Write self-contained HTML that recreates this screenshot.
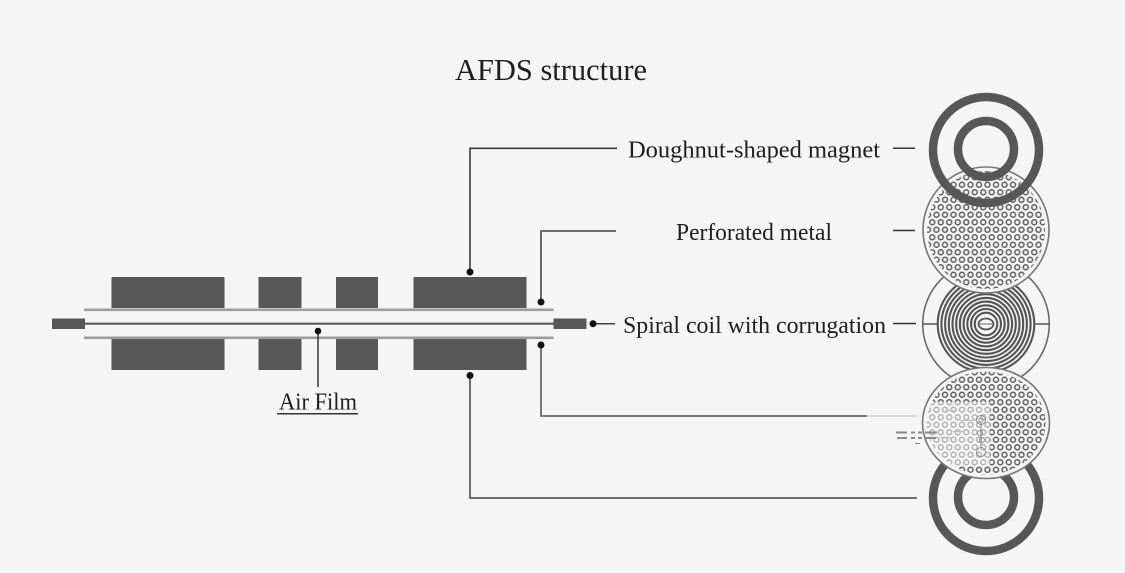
<!DOCTYPE html>
<html>
<head>
<meta charset="utf-8">
<style>
  html, body { margin: 0; padding: 0; background: #f5f5f5; }
  svg { display: block; }
  text { font-family: "Liberation Serif", serif; fill: #1e1e1e; }
</style>
</head>
<body>
<svg width="1125" height="573" viewBox="0 0 1125 573" xmlns="http://www.w3.org/2000/svg">
  <defs>
    <pattern id="perf" x="5.75" y="1" width="8.5" height="15" patternUnits="userSpaceOnUse">
      <circle cx="4.25" cy="3.75" r="2.5" fill="none" stroke="#5e5e5e" stroke-width="1.5"/>
      <circle cx="0" cy="11.25" r="2.5" fill="none" stroke="#5e5e5e" stroke-width="1.5"/>
      <circle cx="8.5" cy="11.25" r="2.5" fill="none" stroke="#5e5e5e" stroke-width="1.5"/>
    </pattern>
    <clipPath id="d2clip">
      <ellipse cx="986" cy="423" rx="62" ry="54"/>
    </clipPath>
  </defs>

  <rect width="1125" height="573" fill="#f5f5f5"/>

  <!-- Title -->
  <text x="455" y="80" font-size="31" textLength="192" lengthAdjust="spacingAndGlyphs">AFDS structure</text>

  <!-- Left structure: blocks -->
  <g fill="#575757">
    <rect x="111.5" y="277" width="113" height="31"/>
    <rect x="258.5" y="277" width="43" height="31"/>
    <rect x="336" y="277" width="42" height="31"/>
    <rect x="413.5" y="277" width="113" height="31"/>
    <rect x="111.5" y="339" width="113" height="31"/>
    <rect x="258.5" y="339" width="43" height="31"/>
    <rect x="336" y="339" width="42" height="31"/>
    <rect x="413.5" y="339" width="113" height="31"/>
    <!-- stubs -->
    <rect x="52" y="318.5" width="33" height="10.5"/>
    <rect x="553.5" y="318.5" width="33" height="10.5"/>
  </g>
  <!-- rails -->
  <rect x="84" y="308.5" width="469.5" height="2.6" fill="#9c9c9c"/>
  <rect x="84" y="336.5" width="469.5" height="2.6" fill="#9c9c9c"/>
  <!-- center line -->
  <rect x="84" y="322.7" width="470" height="2" fill="#555"/>

  <!-- Air Film connector -->
  <line x1="318" y1="331" x2="318" y2="387" stroke="#333" stroke-width="1.5"/>
  <circle cx="318" cy="331" r="3.3" fill="#111"/>
  <text x="279" y="409.5" font-size="24" textLength="78" lengthAdjust="spacingAndGlyphs">Air Film</text>
  <line x1="277" y1="413.8" x2="358" y2="413.8" stroke="#333" stroke-width="1.5"/>

  <!-- Doughnut connector -->
  <polyline points="470,272 470,148.3 617,148.3" fill="none" stroke="#3a3a3a" stroke-width="1.6"/>
  <circle cx="470" cy="272" r="3.5" fill="#111"/>
  <!-- Perforated connector -->
  <polyline points="541,302 541,231 616,231" fill="none" stroke="#5a5a5a" stroke-width="1.8"/>
  <circle cx="541" cy="302" r="3.5" fill="#111"/>
  <!-- Spiral connector -->
  <line x1="593" y1="323.7" x2="615" y2="323.7" stroke="#444" stroke-width="1.5"/>
  <circle cx="593" cy="323.7" r="3.5" fill="#111"/>
  <!-- Lower connectors -->
  <polyline points="541,345 541,416 867,416" fill="none" stroke="#6a6a6a" stroke-width="1.8"/>
  <line x1="867" y1="416" x2="917" y2="416" stroke="#d4d4d4" stroke-width="1.8"/>
  <circle cx="541" cy="345" r="3.5" fill="#111"/>
  <polyline points="470,375.5 470,498 917,498" fill="none" stroke="#5e5e5e" stroke-width="1.8"/>
  <circle cx="470" cy="375.5" r="3.5" fill="#111"/>

  <!-- Labels -->
  <text x="628" y="157.5" font-size="24" textLength="252" lengthAdjust="spacingAndGlyphs">Doughnut-shaped magnet</text>
  <text x="676" y="240" font-size="24" textLength="156" lengthAdjust="spacingAndGlyphs">Perforated metal</text>
  <text x="623" y="333" font-size="24" textLength="263" lengthAdjust="spacingAndGlyphs">Spiral coil with corrugation</text>
  <g stroke="#333" stroke-width="1.5">
    <line x1="893" y1="148.3" x2="915" y2="148.3"/>
    <line x1="893" y1="230.5" x2="915" y2="230.5"/>
    <line x1="893" y1="323.5" x2="916" y2="323.5"/>
  </g>

  <!-- Spiral coil disk -->
  <circle cx="986" cy="324" r="63.3" fill="#f5f5f5" stroke="#6a6a6a" stroke-width="1.6"/>
  <line x1="923" y1="324" x2="937" y2="324" stroke="#555" stroke-width="1.5"/>
  <line x1="1035" y1="324" x2="1049" y2="324" stroke="#555" stroke-width="1.5"/>
  <g fill="none" stroke="#555" stroke-width="2.1">
    <circle cx="986" cy="324" r="48.3"/>
    <circle cx="986" cy="324" r="44.6"/>
    <circle cx="986" cy="324" r="40.9"/>
    <circle cx="986" cy="324" r="37.2"/>
    <circle cx="986" cy="324" r="33.5"/>
    <circle cx="986" cy="324" r="29.8"/>
    <circle cx="986" cy="324" r="26.1"/>
    <circle cx="986" cy="324" r="22.4"/>
    <circle cx="986" cy="324" r="18.7"/>
    <circle cx="986" cy="324" r="15"/>
    <circle cx="986" cy="324" r="11.3"/>
  </g>
  <ellipse cx="986" cy="324" rx="7.5" ry="5.5" fill="#f7f7f7" stroke="#555" stroke-width="1.8"/>
  <line x1="979" y1="324" x2="993" y2="324" stroke="#666" stroke-width="1"/>

  <!-- Perforated disk 1 -->
  <circle cx="986" cy="230" r="63" fill="#f5f5f5" stroke="#777" stroke-width="1.6"/>
  <circle cx="986" cy="230" r="59" fill="url(#perf)"/>

  <!-- Top doughnut magnet -->
  <circle cx="986" cy="150" r="53" fill="none" stroke="#575757" stroke-width="8.5"/>
  <circle cx="986" cy="149" r="28" fill="none" stroke="#575757" stroke-width="8.5"/>

  <!-- Bottom doughnut magnet -->
  <circle cx="986" cy="498" r="53" fill="none" stroke="#575757" stroke-width="8.5"/>
  <circle cx="986" cy="497" r="28" fill="none" stroke="#575757" stroke-width="8.5"/>

  <!-- Perforated disk 2 -->
  <ellipse cx="986" cy="423" rx="63.5" ry="55.5" fill="#f5f5f5" stroke="#777" stroke-width="1.6"/>
  <ellipse cx="986" cy="423" rx="59.5" ry="51.5" fill="url(#perf)"/>
  <!-- faded artifact region -->
  <g clip-path="url(#d2clip)">
    <rect x="920" y="402" width="70" height="64" fill="#f5f5f5" opacity="0.55"/>
  </g>
  <g fill="none" stroke="#8a8a8a" stroke-width="0.9">
    <circle cx="981" cy="420" r="4.5"/>
    <circle cx="981" cy="420" r="2.2"/>
    <circle cx="981" cy="452" r="4.5"/>
    <line x1="981" y1="426" x2="981" y2="446"/>
    <circle cx="980" cy="433" r="2.5"/>
    <circle cx="982" cy="440" r="2.5"/>
  </g>
  <g fill="#bbb">
    <rect x="945" y="410" width="12" height="1"/>
    <rect x="960" y="420" width="14" height="1"/>
    <rect x="953" y="431" width="10" height="1"/>
    <rect x="940" y="437" width="16" height="1"/>
  </g>
  <!-- small dashes -->
  <g fill="#8a8a8a">
    <rect x="896" y="431.5" width="11" height="2"/>
    <rect x="911" y="431.5" width="4" height="2"/>
    <rect x="918" y="431.5" width="4" height="2"/>
    <rect x="925" y="431.5" width="12" height="2"/>
    <rect x="897" y="437" width="10" height="2"/>
    <rect x="911" y="437" width="4" height="2"/>
    <rect x="918" y="437" width="4" height="2"/>
    <rect x="925" y="437" width="11" height="2"/>
    <rect x="915" y="443" width="5" height="1"/>
  </g>
</svg>
</body>
</html>
